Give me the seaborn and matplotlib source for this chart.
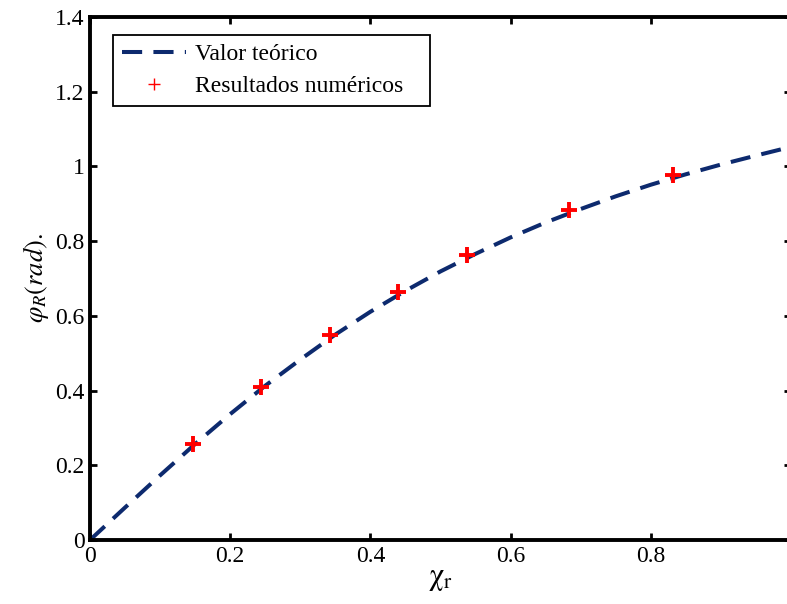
import numpy as np
import pandas as pd
import matplotlib
matplotlib.use("Agg")
import matplotlib.pyplot as plt
import seaborn as sns

# theoretical curve
x_teo = [0.0, 0.05, 0.1, 0.15, 0.2, 0.25, 0.3, 0.35, 0.4, 0.45, 0.5,
         0.55, 0.6, 0.65, 0.7, 0.75, 0.8, 0.85, 0.9, 0.95, 0.995]
y_teo = [0.0, 0.087, 0.173, 0.257, 0.337, 0.413, 0.483, 0.550, 0.611, 0.667, 0.719,
         0.766, 0.810, 0.850, 0.886, 0.920, 0.951, 0.979, 1.005, 1.029, 1.050]

# numerical results
x_num = [0.147, 0.244, 0.343, 0.440, 0.538, 0.684, 0.831]
y_num = [0.256, 0.410, 0.549, 0.665, 0.764, 0.884, 0.978]

teo = pd.DataFrame({"x": x_teo, "y": y_teo})
num = pd.DataFrame({"x": x_num, "y": y_num})

sns.set_style("ticks")
plt.rcParams["font.family"] = ["Liberation Serif", "DejaVu Serif"]
plt.rcParams["mathtext.fontset"] = "stix"
plt.rcParams["text.color"] = "black"
plt.rcParams["axes.labelcolor"] = "black"
plt.rcParams["xtick.color"] = "black"
plt.rcParams["ytick.color"] = "black"
plt.rcParams["axes.edgecolor"] = "black"

fig = plt.figure(figsize=(7.87, 6.04), dpi=100)
# the right edge of the axes is cut off in the original
ax = fig.add_axes([90 / 787, 64 / 604, 701 / 787, 523 / 604])

sns.lineplot(data=teo, x="x", y="y", ax=ax, color="#0d2a6e", lw=2.9,
             label="Valor teórico")
ax.lines[0].set_dashes([5, 2.8])
ax.lines[0].set_dash_capstyle("butt")
ax.plot(x_num, y_num, ls="none", marker="+", color="red", ms=11, mew=2.8)
ax.plot([], [], ls="none", marker="+", color="red", ms=9, mew=1.0,
        label="Resultados numéricos   ")

ax.set_xlim(0, 1)
ax.set_ylim(0, 1.4)
ax.set_xticks([0, 0.2, 0.4, 0.6, 0.8])
ax.set_xticklabels(["0", "0.2", "0.4", "0.6", "0.8"])
ax.set_yticks([0, 0.2, 0.4, 0.6, 0.8, 1.0, 1.2, 1.4])
ax.set_yticklabels(["0", "0.2", "0.4", "0.6", "0.8", "1", "1.2", "1.4"])
ax.tick_params(direction="in", length=5, width=2, labelsize=17,
               top=True, right=True, pad=4)
for s in ax.spines.values():
    s.set_linewidth(2.8)

ax.set_xlabel(r"$\mathrm{\chi_r}$", fontsize=22, labelpad=-2)
ax.set_ylabel(r"$\varphi_R(rad).$", fontsize=19, labelpad=3)

handles, labels = ax.get_legend_handles_labels()
leg = ax.legend(handles, labels, loc="upper left", fontsize=17, frameon=True,
                fancybox=False, edgecolor="black", framealpha=1,
                bbox_to_anchor=(0.033, 0.966), borderaxespad=0,
                handlelength=2.7, handletextpad=0.38, borderpad=0.38,
                labelspacing=0.45)
leg.get_frame().set_linewidth(1.3)

fig.savefig("out.png", dpi=100)
